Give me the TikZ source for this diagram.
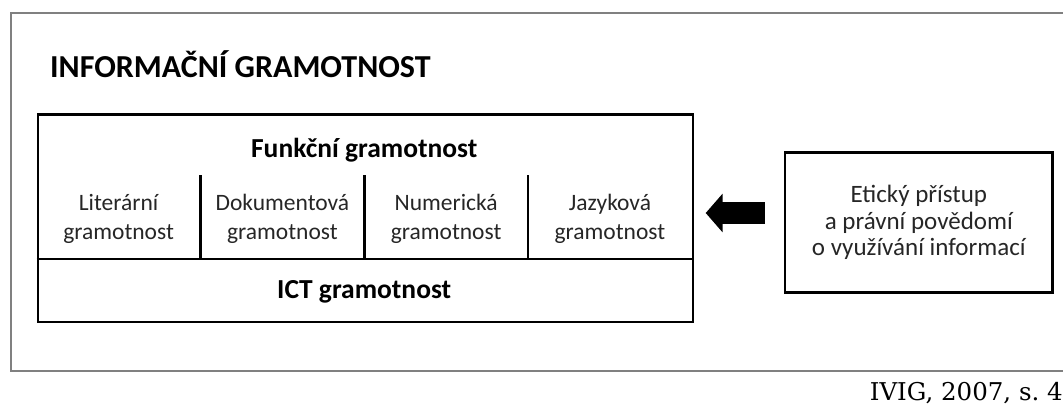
\documentclass[tikz,border=0pt]{standalone}
\usepackage{fontspec}
\setmainfont{Carlito}
\newfontfamily\zdrojfont{DejaVu Serif}
\usetikzlibrary{arrows.meta,positioning}

\tikzset{
  ramecek/.style={draw=black, line width=2.7pt},
  tucne/.style={font=\fontsize{27.5}{30}\selectfont\bfseries},
  bunka/.style={align=center, text=black!85, font=\fontsize{23.5}{29}\selectfont},
  sipka/.style={line width=22pt, -{Triangle[length=17pt,width=38pt]}},
}

\begin{document}
\begin{tikzpicture}[x=1pt,y=-1pt]
		\useasboundingbox (0,0) rectangle (1063,409);
		% vnější rámec
		\draw [black!50, line width=2pt] (1070,13) -- (10.7,13) -- (10.7,371) -- (1070,371);
		\node [anchor=west, inner sep=0, font=\fontsize{32}{34}\selectfont\bfseries] (info) at (50,64) {INFORMAČNÍ GRAMOTNOST};
		% funkční gramotnost
		\node [ramecek, minimum width=655pt, minimum height=207.2pt, anchor=north west] (ramec) at (36.7,113.3) {};
		\draw [ramecek] (ramec.west |- 0,259) -- (ramec.east |- 0,259);
		\foreach \x in {200.5,364.2,528}
			\draw [ramecek] (\x,175) -- (\x,259);
		\node [tucne] (funkcni) at (364.2,150) {Funkční gramotnost};
		\node [bunka] (lit) at (118.6,218.5) {Literární\\gramotnost};
		\node [bunka] (dok) at (282.4,218.5) {Dokumentová\\gramotnost};
		\node [bunka] (num) at (446.1,218.5) {Numerická\\gramotnost};
		\node [bunka] (jaz) at (609.9,218.5) {Jazyková\\gramotnost};
		\node [tucne] (ict) at (364.2,292) {ICT gramotnost};
		% etický přístup
		\node [ramecek, minimum width=267.7pt, minimum height=140pt, align=center, text=black!85, font=\fontsize{25}{26.5}\selectfont] (eticky) at (918.8,222.7) {Etický přístup\\a právní povědomí\\o využívání informací};
		\coordinate (ocas) at ([xshift=-19pt,yshift=9.7pt]eticky.west);
		\draw [sipka] (ocas) -- ([xshift=11.3pt]ramec.east |- ocas);
		% zdroj
		\node [anchor=base east, inner sep=0, font=\zdrojfont\fontsize{24.5}{28}\selectfont] (zdroj) at (1063,400) {IVIG, 2007, s.~4};
\end{tikzpicture}
\end{document}
